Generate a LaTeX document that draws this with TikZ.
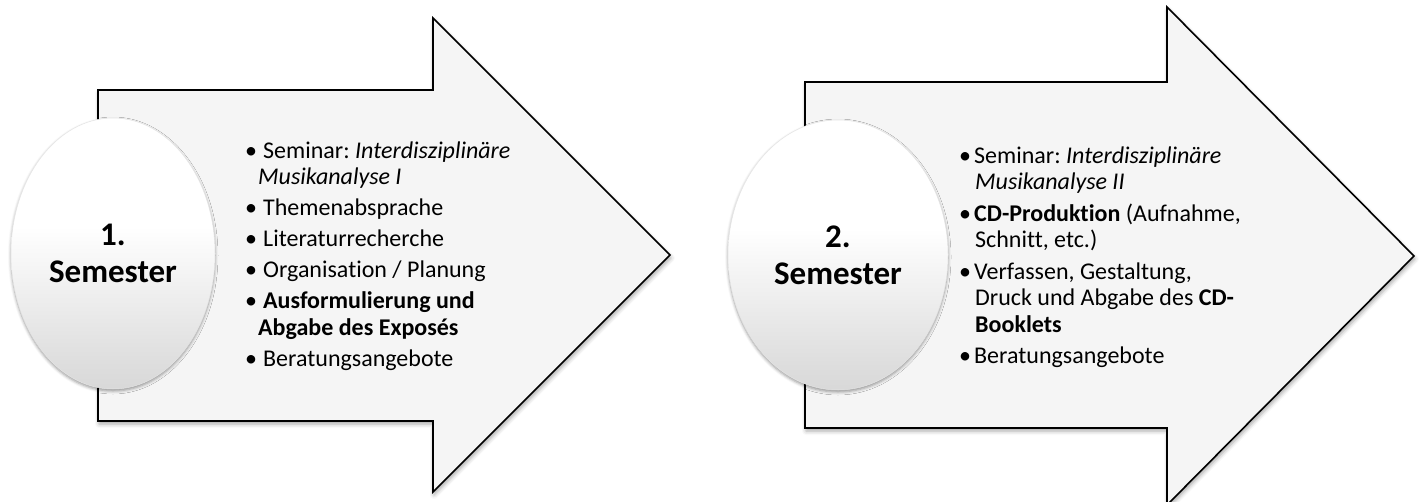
\documentclass[tikz,border=0pt]{standalone}
\usepackage{fontspec}
\setmainfont{Carlito}[Ligatures=CommonOff]
\usetikzlibrary{shapes.geometric,shadows.blur}
\newcommand{\bul}[1]{\makebox[#1][l]{•}}
\pgfdeclareverticalshading{semshade}{100bp}{color(0bp)=(black!26); color(30bp)=(black!13); color(55bp)=(white); color(100bp)=(white)}
\frenchspacing
\begin{document}
\begin{tikzpicture}[x=1pt,y=-1pt,
  arrowshape/.style={fill=black!4, draw=black, line width=1.6pt, line join=miter,
    blur shadow={shadow xshift=1pt, shadow yshift=-3pt, shadow opacity=35, shadow blur radius=4pt}},
  semnode/.style={ellipse, inner sep=0pt, draw=black!10, line width=0.5pt,
    shading=semshade, align=center,
    blur shadow={shadow xshift=0pt, shadow yshift=-2pt, shadow opacity=40, shadow blur radius=3pt},
    font=\fontsize{33}{37}\selectfont\bfseries},
  itemlist/.style={anchor=base west, inner sep=0pt, font=\fontsize{24}{26.5}\selectfont}
]
\useasboundingbox (0,0) rectangle (1421,501);
% arrows
\draw[arrowshape] (98,90) -- (433,90) -- (433,18) -- (670,255) -- (433,492) -- (433,421) -- (98,421) -- cycle;
\draw[arrowshape] (805,82) -- (1167,82) -- (1167,7) -- (1414,256) -- (1167,505) -- (1167,428) -- (805,428) -- cycle;
% semester ellipses
\node[semnode, minimum width=204pt, minimum height=271pt] (sem1) at (113,253.5) {1.\\Semester};
\node[semnode, minimum width=220pt, minimum height=270pt] (sem2) at (838,255) {2.\\Semester};
% lists
\node[itemlist] (list1) at (245,158) {\parbox[t]{300pt}{%
\bul{18pt}Seminar: \textit{Interdisziplinäre}\\
\hspace*{13pt}\textit{Musikanalyse I}\\[4.5pt]
\bul{18pt}Themenabsprache\\[4.5pt]
\bul{18pt}Literaturrecherche\\[4.5pt]
\bul{18pt}Organisation / Planung\\[4.5pt]
\bul{18pt}\textbf{Ausformulierung und}\\
\hspace*{13pt}\textbf{Abgabe des Exposés}\\[4.5pt]
\bul{18pt}Beratungsangebote}};
\node[itemlist] (list2) at (959,163) {\parbox[t]{300pt}{%
\bul{15pt}Seminar: \textit{Interdisziplinäre}\\
\hspace*{16pt}\textit{Musikanalyse II}\\[5pt]
\bul{15pt}\textbf{CD-Produktion} (Aufnahme,\\
\hspace*{16pt}Schnitt, etc.)\\[5pt]
\bul{15pt}Verfassen, Gestaltung,\\
\hspace*{16pt}Druck und Abgabe des \textbf{CD-}\\
\hspace*{16pt}\textbf{Booklets}\\[5pt]
\bul{15pt}Beratungsangebote}};
\end{tikzpicture}
\end{document}
